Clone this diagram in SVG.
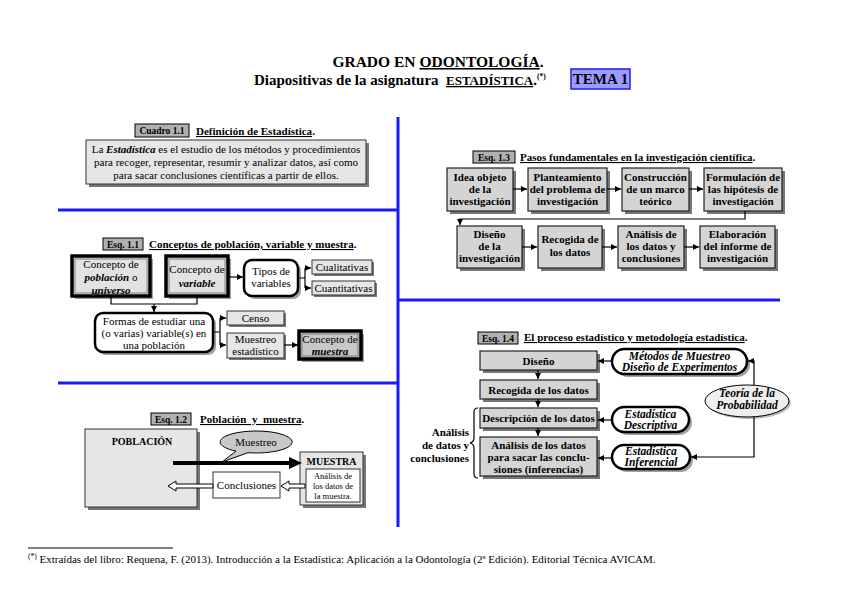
<svg xmlns="http://www.w3.org/2000/svg" width="848" height="599" viewBox="0 0 848 599" font-family="'Liberation Serif', 'Times New Roman', serif">
<defs>
<marker id="ah" viewBox="0 0 6 6" refX="6" refY="3" markerWidth="6" markerHeight="6" markerUnits="userSpaceOnUse" orient="auto"><path d="M0,0 L6,3 L0,6 z" fill="#000"/></marker>
</defs>
<style>
text{font-family:'Liberation Serif','Times New Roman',serif;fill:#000}
.b{font-weight:bold}
.bi{font-weight:bold;font-style:italic}
.c{text-anchor:middle}
.s10{font-size:11px}
.si{font-size:11.5px}
.lab{fill:#b0b0b0;stroke:#000;stroke-width:1}
.labt{font-size:9.5px;font-weight:bold;text-anchor:middle}
.ttl{font-size:11px;font-weight:bold}
.u{text-decoration:underline}
.blue{stroke:#1a1aff;stroke-width:3;fill:none}
.sh{fill:#777}
.shl{fill:#a0a0a0}
.g1{fill:#e6e6e6;stroke:#333;stroke-width:1}
.g3{fill:#d4d4d4;stroke:#222;stroke-width:1.2}
.thick{fill:#e2e2e2;stroke:#000;stroke-width:3.5}
.inner{fill:none;stroke:#666;stroke-width:0.8}
.rnd{fill:#fff;stroke:#000;stroke-width:2.5}
.wb{fill:#fff;stroke:#333;stroke-width:1}
.ln{fill:none;stroke:#000;stroke-width:1.2}
.ar{fill:none;stroke:#000;stroke-width:1.2;marker-end:url(#ah)}
</style>
<rect width="848" height="599" fill="#fff"/>

<g id="title">
<text x="438" y="67" class="b c" font-size="15.5">GRADO EN <tspan class="u">ODONTOLOGÍA</tspan>.</text>
<text x="254" y="85" class="b" font-size="15">Diapositivas de la asignatura <tspan x="446" font-size="13" class="u">ESTADÍSTICA</tspan><tspan font-size="15">.</tspan><tspan font-size="7.5" dy="-6">(*)</tspan></text>
<rect x="571" y="69" width="59" height="20" fill="#9c9cff" stroke="#2020dd" stroke-width="1.5"/>
<text x="600.5" y="84" class="b c" font-size="15">TEMA 1</text>
</g>

<g id="dividers">
<line x1="398" y1="117" x2="398" y2="527" class="blue"/>
<line x1="58" y1="210" x2="398" y2="210" class="blue"/>
<line x1="398" y1="300" x2="780" y2="300" class="blue"/>
<line x1="58" y1="383" x2="398" y2="383" class="blue"/>
</g>

<g id="cuadro11">
<rect x="135" y="124" width="54" height="13" class="lab"/>
<text x="162" y="134" class="labt">Cuadro 1.1</text>
<text x="196" y="135" class="ttl"><tspan class="u">Definición de Estadística</tspan>.</text>
<rect x="89" y="143" width="280" height="44" class="sh"/>
<rect x="86" y="140" width="280" height="44" class="g1"/>
<text x="226" y="153" class="c s10">La <tspan class="bi">Estadística</tspan> es el estudio de los métodos y procedimientos</text>
<text x="226" y="166" class="c s10">para recoger, representar, resumir y analizar datos, así como</text>
<text x="226" y="179" class="c s10">para sacar conclusiones científicas a partir de ellos.</text>
</g>

<g id="esq11">
<rect x="103" y="238" width="40" height="12" class="lab"/>
<text x="123" y="247.5" class="labt">Esq. 1.1</text>
<text x="149" y="248" class="ttl"><tspan class="u">Conceptos de población, variable y muestra</tspan>.</text>
</g>
<g id="n-poblacion">
<rect x="75" y="259" width="78" height="40" class="shl"/>
<rect x="72" y="256" width="78" height="40" class="thick"/>
<rect x="75" y="259" width="72" height="34" class="inner"/>
<text x="111" y="268" class="c s10">Concepto de</text>
<text x="111" y="281" class="c s10"><tspan class="bi">población</tspan> o</text>
<text x="111" y="294" class="c s10 bi">universo</text>
</g>
<g id="n-variable">
<rect x="169" y="259" width="62" height="40" class="shl"/>
<rect x="166" y="256" width="62" height="40" class="thick"/>
<rect x="169" y="259" width="56" height="34" class="inner"/>
<text x="197" y="273" class="c s10">Concepto de</text>
<text x="197" y="287" class="c s10 bi">variable</text>
</g>
<g id="n-formas">
<rect x="98" y="316" width="118" height="39" rx="8" class="shl"/>
<rect x="95" y="313" width="118" height="39" rx="8" class="rnd"/>
<text x="154" y="325" class="c s10">Formas de estudiar una</text>
<text x="154" y="337" class="c s10">(o varias) variable(s) en</text>
<text x="154" y="349" class="c s10">una población</text>
</g>
<g id="n-tipos">
<rect x="247" y="263" width="54" height="36" rx="8" class="shl"/>
<rect x="244" y="260" width="54" height="36" rx="8" class="rnd"/>
<text x="271" y="275" class="c s10">Tipos de</text>
<text x="271" y="287" class="c s10">variables</text>
</g>
<g id="n-cualitativas">
<rect x="314" y="262" width="60" height="14" class="sh"/>
<rect x="312" y="260" width="60" height="14" class="g1"/>
<text x="342" y="271" class="c s10">Cualitativas</text>
</g>
<g id="n-cuantitativas">
<rect x="314" y="283" width="63" height="14" class="sh"/>
<rect x="312" y="281" width="63" height="14" class="g1"/>
<text x="343.5" y="292" class="c s10">Cuantitativas</text>
</g>
<g id="n-censo">
<rect x="229" y="313" width="57" height="14" class="sh"/>
<rect x="227" y="311" width="57" height="14" class="g1"/>
<text x="255.5" y="322" class="c s10">Censo</text>
</g>
<g id="n-muestreo-est">
<rect x="229" y="335" width="57" height="25" class="sh"/>
<rect x="227" y="333" width="57" height="25" class="g1"/>
<text x="255.5" y="343" class="c s10">Muestreo</text>
<text x="255.5" y="355" class="c s10">estadístico</text>
</g>
<g id="n-muestra-concepto">
<rect x="302" y="334" width="62" height="28" class="shl"/>
<rect x="299" y="331" width="62" height="28" class="thick" style="fill:#c8c8c8"/>
<rect x="302" y="334" width="56" height="22" class="inner"/>
<text x="330" y="343" class="c s10">Concepto de</text>
<text x="330" y="355" class="c s10 bi">muestra</text>
</g>

<g id="esq12">
<rect x="151" y="413" width="40" height="12" class="lab"/>
<text x="171" y="422.5" class="labt">Esq. 1.2</text>
<text x="200" y="423" class="ttl" xml:space="preserve"><tspan class="u">Población  y  muestra</tspan>.</text>
</g>
<g id="n-poblacion2">
<rect x="88" y="432" width="112" height="78" class="sh"/>
<rect x="85" y="429" width="112" height="78" class="g1"/>
<text x="142" y="445" class="c b" font-size="10">POBLACIÓN</text>
</g>
<g id="n-muestreo-callout">
<path d="M248,452.7 A36,11 0 1,0 236,451.1 L222,462 Z" fill="#c8c8c8" stroke="#000" stroke-width="1"/>
<text x="256" y="446" class="c s10">Muestreo</text>
</g>
<g id="n-muestra">
<rect x="303" y="455" width="63" height="53" class="sh"/>
<rect x="300" y="452" width="63" height="53" class="g1"/>
<text x="331.5" y="465" class="c b" font-size="10">MUESTRA</text>
<rect x="306" y="469" width="54" height="33" class="wb"/>
<text x="333" y="479" class="c" font-size="8.5">Análisis de</text>
<text x="333" y="489" class="c" font-size="8.5">los datos de</text>
<text x="333" y="499" class="c" font-size="8.5">la muestra.</text>
</g>
<g id="n-conclusiones">
<rect x="213" y="472" width="67" height="26" class="wb"/>
<text x="246.5" y="489" class="c s10">Conclusiones</text>
</g>

<g id="esq13">
<rect x="473" y="151" width="42" height="12" class="lab"/>
<text x="494" y="160.5" class="labt">Esq. 1.3</text>
<text x="520" y="161" class="ttl"><tspan class="u">Pasos fundamentales en la investigación científica</tspan>.</text>
</g>
<g id="n-idea">
<rect x="450" y="171" width="66" height="43" class="sh"/>
<rect x="447" y="168" width="66" height="43" class="g3"/>
<text x="480" y="181" class="c b s10">Idea objeto</text>
<text x="480" y="193" class="c b s10">de la</text>
<text x="480" y="205" class="c b s10">investigación</text>
</g>
<g id="n-planteamiento">
<rect x="531" y="171" width="79" height="43" class="sh"/>
<rect x="528" y="168" width="79" height="43" class="g3"/>
<text x="567.5" y="181" class="c b s10">Planteamiento</text>
<text x="567.5" y="193" class="c b s10">del problema de</text>
<text x="567.5" y="205" class="c b s10">investigación</text>
</g>
<g id="n-construccion">
<rect x="625" y="171" width="67" height="43" class="sh"/>
<rect x="622" y="168" width="67" height="43" class="g3"/>
<text x="655.5" y="181" class="c b s10">Construcción</text>
<text x="655.5" y="193" class="c b s10">de un marco</text>
<text x="655.5" y="205" class="c b s10">teórico</text>
</g>
<g id="n-formulacion">
<rect x="707" y="171" width="78" height="43" class="sh"/>
<rect x="704" y="168" width="78" height="43" class="g3"/>
<text x="743" y="181" class="c b s10">Formulación de</text>
<text x="743" y="193" class="c b s10">las hipótesis de</text>
<text x="743" y="205" class="c b s10">investigación</text>
</g>
<g id="n-diseno-inv">
<rect x="460" y="229" width="65" height="42" class="sh"/>
<rect x="457" y="226" width="65" height="42" class="g3"/>
<text x="489.5" y="238" class="c b s10">Diseño</text>
<text x="489.5" y="250" class="c b s10">de la</text>
<text x="489.5" y="262" class="c b s10">investigación</text>
</g>
<g id="n-recogida-inv">
<rect x="541" y="229" width="64" height="42" class="sh"/>
<rect x="538" y="226" width="64" height="42" class="g3"/>
<text x="570" y="243" class="c b s10">Recogida de</text>
<text x="570" y="256" class="c b s10">los datos</text>
</g>
<g id="n-analisis-inv">
<rect x="621" y="229" width="66" height="42" class="sh"/>
<rect x="618" y="226" width="66" height="42" class="g3"/>
<text x="651" y="238" class="c b s10">Análisis de</text>
<text x="651" y="250" class="c b s10">los datos y</text>
<text x="651" y="262" class="c b s10">conclusiones</text>
</g>
<g id="n-elaboracion">
<rect x="703" y="229" width="75" height="42" class="sh"/>
<rect x="700" y="226" width="75" height="42" class="g3"/>
<text x="737.5" y="238" class="c b s10">Elaboración</text>
<text x="737.5" y="250" class="c b s10">del informe de</text>
<text x="737.5" y="262" class="c b s10">investigación</text>
</g>

<g id="esq14">
<rect x="478" y="332" width="40" height="12" class="lab"/>
<text x="498" y="341.5" class="labt">Esq. 1.4</text>
<text x="524" y="341" class="ttl"><tspan class="u">El proceso estadístico y metodología estadística</tspan>.</text>
<path d="M478,408 Q474,408 474,412 V438 Q474,442 470,443 Q474,444 474,448 V474 Q474,478 478,478" fill="none" stroke="#000" stroke-width="1.2"/>
<text x="469" y="436" class="b s10" text-anchor="end">Análisis</text>
<text x="469" y="449" class="b s10" text-anchor="end">de datos y</text>
<text x="469" y="462" class="b s10" text-anchor="end">conclusiones</text>
</g>
<g id="n-diseno">
<rect x="483" y="354" width="117" height="19" class="sh"/>
<rect x="480" y="351" width="117" height="19" class="g3"/>
<text x="538.5" y="364.5" class="c b s10">Diseño</text>
</g>
<g id="n-recogida">
<rect x="483" y="383" width="117" height="19" class="sh"/>
<rect x="480" y="380" width="117" height="19" class="g3"/>
<text x="538.5" y="393.5" class="c b s10">Recogida de los datos</text>
</g>
<g id="n-descripcion">
<rect x="483" y="411" width="117" height="20" class="sh"/>
<rect x="480" y="408" width="117" height="20" class="g3"/>
<text x="538.5" y="422" class="c b s10">Descripción de los datos</text>
</g>
<g id="n-analisis">
<rect x="483" y="440" width="117" height="39" class="sh"/>
<rect x="480" y="437" width="117" height="39" class="g3"/>
<text x="538.5" y="449" class="c b s10">Análisis de los datos</text>
<text x="538.5" y="461" class="c b s10">para sacar las conclu-</text>
<text x="538.5" y="473" class="c b s10">siones (inferencias)</text>
</g>
<g id="n-metodos">
<rect x="615" y="352" width="135" height="25" rx="12.5" class="shl"/>
<rect x="612" y="349" width="135" height="25" rx="12.5" class="rnd"/>
<text x="679.5" y="359.5" class="c bi si">Métodos de Muestreo</text>
<text x="679.5" y="371" class="c bi si">Diseño de Experimentos</text>
</g>
<g id="n-descriptiva">
<rect x="615" y="410" width="77" height="25" rx="12.5" class="shl"/>
<rect x="612" y="407" width="77" height="25" rx="12.5" class="rnd"/>
<text x="650.5" y="417.5" class="c bi si">Estadística</text>
<text x="650.5" y="429" class="c bi si">Descriptiva</text>
</g>
<g id="n-inferencial">
<rect x="615" y="448" width="78" height="24" rx="12" class="shl"/>
<rect x="612" y="445" width="78" height="24" rx="12" class="rnd"/>
<text x="651" y="455" class="c bi si">Estadística</text>
<text x="651" y="466" class="c bi si">Inferencial</text>
</g>
<g id="n-teoria">
<ellipse cx="749" cy="403" rx="42" ry="16" fill="#bbb"/>
<ellipse cx="747" cy="401" rx="42" ry="16" fill="#eee" stroke="#000" stroke-width="1"/>
<text x="747" y="397" class="c bi si">Teoría de la</text>
<text x="747" y="409" class="c bi si">Probabilidad</text>
</g>

<g id="connectors">
<path d="M111,296 V304 H197 V296" class="ln"/>
<path d="M154,304 V312" class="ar"/>
<path d="M228,277 H243" class="ar"/>
<path d="M298,278 H305 M305,268 V288" class="ln"/>
<path d="M305,268 H311" class="ar"/>
<path d="M305,288 H311" class="ar"/>
<path d="M213,332 H220 M220,318 V345" class="ln"/>
<path d="M220,318 H226" class="ar"/>
<path d="M220,345 H226" class="ar"/>
<path d="M284,345 H298" class="ar"/>
<line x1="173" y1="463" x2="290" y2="463" stroke="#000" stroke-width="4"/>
<polygon points="289,457 302,463 289,469" fill="#000"/>
<polygon points="281,486 289,481 289,484 305,484 305,488 289,488 289,491" fill="#fff" stroke="#000" stroke-width="1"/>
<polygon points="168,486 176,481 176,484 213,484 213,488 176,488 176,491" fill="#fff" stroke="#000" stroke-width="1"/>
<path d="M513,189 H527" class="ar"/>
<path d="M607,189 H621" class="ar"/>
<path d="M689,189 H703" class="ar"/>
<path d="M745,211 V219 H460 V225" class="ar"/>
<path d="M522,247 H537" class="ar"/>
<path d="M602,247 H617" class="ar"/>
<path d="M684,247 H699" class="ar"/>
<path d="M538,370 V379" class="ar"/>
<path d="M538,399 V407" class="ar"/>
<path d="M538,428 V436" class="ar"/>
<path d="M612,361 H598" class="ar"/>
<path d="M612,420 H598" class="ar"/>
<path d="M612,458 H598" class="ar"/>
<path d="M754,385 V361 H748" class="ar"/>
<path d="M754,417 V457 H691" class="ar"/>
</g>

<g id="footnote">
<line x1="28" y1="548" x2="173" y2="548" stroke="#000" stroke-width="1"/>
<text x="28" y="563" font-size="11"><tspan font-size="7.5" dy="-4">(*)</tspan><tspan dy="4"> Extraídas del libro: Requena, F. (2013). Introducción a la Estadística: Aplicación a la Odontología (2ª Edición). Editorial Técnica AVICAM.</tspan></text>
</g>
</svg>
